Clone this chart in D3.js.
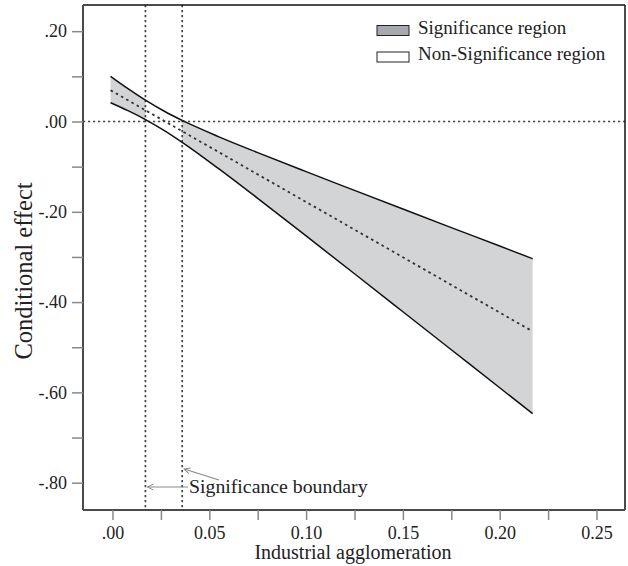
<!DOCTYPE html>
<html>
<head>
<meta charset="utf-8">
<script src="https://cdn.jsdelivr.net/npm/d3@7"></script>
<style>
  html, body { margin: 0; padding: 0; background: #fff; }
  svg { display: block; }
  text { font-family: "Liberation Serif", "Times New Roman", serif; fill: #222; }
</style>
</head>
<body>
<svg id="chart" width="628" height="566"></svg>
<script>
// ---- data ----
const xs     = [-0.001, 0.008, 0.017, 0.027, 0.036, 0.055, 0.075, 0.100, 0.125, 0.150, 0.175, 0.200, 0.217];
const upper  = [0.100, 0.0726, 0.0472, 0.0221, 0.0023, -0.0340, -0.0689, -0.1111, -0.1526, -0.1939, -0.2350, -0.2758, -0.3039];
const lower  = [0.0416, 0.0239, 0.0042, -0.0208, -0.0462, -0.1051, -0.1703, -0.2535, -0.3373, -0.4214, -0.5056, -0.5897, -0.6472];
const effect = [0.0690, 0.0470, 0.0250, 0.0004, -0.0216, -0.0681, -0.1171, -0.1783, -0.2395, -0.3007, -0.3619, -0.4232, -0.4648];
const boundaries = [0.017, 0.036];
const xTicks = [0, 0.025, 0.05, 0.075, 0.10, 0.125, 0.15, 0.175, 0.20, 0.225, 0.25];
const xLabeled = [0, 0.05, 0.10, 0.15, 0.20, 0.25];
const yTicks = [0.2, 0.1, 0, -0.1, -0.2, -0.3, -0.4, -0.5, -0.6, -0.7, -0.8];
const yLabeled = [0.2, 0, -0.2, -0.4, -0.6, -0.8];
const legendItems = ["Significance region", "Non-Significance region"];
const xTitle = "Industrial agglomeration";
const yTitle = "Conditional effect";
const annotation = "Significance boundary";

const svg = d3.select("#chart");
const L = 83, R = 625, T = 5, B = 510;
const x = d3.scaleLinear().domain([-0.01524, 0.26472]).range([L, R]);
const y = d3.scaleLinear().domain([0.2580, -0.8605]).range([T, B]);

const pts = xs.map((v, i) => ({x: v, u: upper[i], l: lower[i], e: effect[i]}));

// clip regions
const defs = svg.append("defs");
defs.append("clipPath").attr("id", "sigL").append("rect")
  .attr("x", L).attr("y", T).attr("width", x(boundaries[0]) - L).attr("height", B - T);
defs.append("clipPath").attr("id", "sigR").append("rect")
  .attr("x", x(boundaries[1])).attr("y", T).attr("width", R - x(boundaries[1])).attr("height", B - T);
const mk = defs.append("marker").attr("id", "arr").attr("viewBox", "-10 -6 12 12")
  .attr("refX", 0).attr("refY", 0).attr("markerWidth", 10).attr("markerHeight", 10)
  .attr("orient", "auto").attr("markerUnits", "userSpaceOnUse");
mk.append("path").attr("d", "M-7,-3.5 L0,0 L-7,3.5").attr("fill", "none").attr("stroke", "#8a8a8a").attr("stroke-width", 1.2);

const area = d3.area().x(d => x(d.x)).y0(d => y(d.l)).y1(d => y(d.u)).curve(d3.curveMonotoneX);
svg.append("path").datum(pts).attr("d", area).attr("fill", "#d3d4d6").attr("clip-path", "url(#sigL)");
svg.append("path").datum(pts).attr("d", area).attr("fill", "#d3d4d6").attr("clip-path", "url(#sigR)");

// zero line and boundaries
svg.append("line").attr("x1", L).attr("x2", R).attr("y1", y(0)).attr("y2", y(0))
  .attr("stroke", "#444").attr("stroke-width", 1.7).attr("stroke-dasharray", "2.2,2.8");
boundaries.forEach(b => {
  svg.append("line").attr("x1", x(b)).attr("x2", x(b)).attr("y1", T).attr("y2", B)
    .attr("stroke", "#444").attr("stroke-width", 1.7).attr("stroke-dasharray", "2.2,2.8");
});

// bounds
const lineU = d3.line().x(d => x(d.x)).y(d => y(d.u)).curve(d3.curveMonotoneX);
const lineL = d3.line().x(d => x(d.x)).y(d => y(d.l)).curve(d3.curveMonotoneX);
const lineE = d3.line().x(d => x(d.x)).y(d => y(d.e));
svg.append("path").datum(pts).attr("d", lineU).attr("fill", "none").attr("stroke", "#111").attr("stroke-width", 1.5);
svg.append("path").datum(pts).attr("d", lineL).attr("fill", "none").attr("stroke", "#111").attr("stroke-width", 1.5);
svg.append("path").datum(pts).attr("d", lineE).attr("fill", "none").attr("stroke", "#333").attr("stroke-width", 1.8).attr("stroke-dasharray", "2.6,3.4");

// frame top/right
svg.append("line").attr("x1", L).attr("x2", R).attr("y1", T).attr("y2", T).attr("stroke", "#111").attr("stroke-width", 1.5);
svg.append("line").attr("x1", R).attr("x2", R).attr("y1", T).attr("y2", B).attr("stroke", "#111").attr("stroke-width", 1.5);

// axes
const fmtY = v => yLabeled.some(t => Math.abs(t - v) < 1e-9) ? d3.format(".2f")(v).replace("\u2212", "-").replace("0.", ".") : "";
const fmtX = v => xLabeled.some(t => Math.abs(t - v) < 1e-9) ? (v === 0 ? ".00" : d3.format(".2f")(v)) : "";
const gy = svg.append("g").attr("transform", `translate(${L},0)`)
  .call(d3.axisLeft(y).tickValues(yTicks).tickFormat(fmtY).tickSize(11).tickPadding(5).tickSizeOuter(0));
const gx = svg.append("g").attr("transform", `translate(0,${B})`)
  .call(d3.axisBottom(x).tickValues(xTicks).tickFormat(fmtX).tickSize(10).tickPadding(6).tickSizeOuter(0));
[gy, gx].forEach(g => {
  g.select(".domain").attr("stroke", "#4a4a4a").attr("stroke-width", 2);
  g.selectAll(".tick line").attr("stroke", "#888").attr("stroke-width", 1.5);
  g.selectAll(".tick text").attr("font-size", 18).attr("fill", "#333")
    .style("font-family", '"Liberation Serif", "Times New Roman", serif');
});
gx.select(".domain").attr("d", `M${L},0H${R}`);
gy.select(".domain").attr("d", `M0,${T}V${B}`);

// titles
svg.append("text").attr("x", 353).attr("y", 559).attr("text-anchor", "middle").attr("font-size", 20).text(xTitle);
svg.append("text").attr("transform", "translate(32,271) rotate(-90)").attr("text-anchor", "middle").attr("font-size", 24.5).text(yTitle);

// legend
const swFill = ["#a6a9ae", "#ffffff"];
legendItems.forEach((t, i) => {
  const yy = 25.5 + i * 26.5;
  svg.append("rect").attr("x", 377).attr("y", yy).attr("width", 32).attr("height", 10)
    .attr("fill", swFill[i]).attr("stroke", "#222").attr("stroke-width", 1);
  svg.append("text").attr("x", 418).attr("y", yy + 8).attr("font-size", 19).text(t);
});

// annotation + arrows
svg.append("text").attr("x", 189).attr("y", 493).attr("font-size", 19.8).text(annotation);
svg.append("line").attr("x1", 188).attr("y1", 487).attr("x2", x(boundaries[0]) + 2).attr("y2", 487)
  .attr("stroke", "#8a8a8a").attr("stroke-width", 1.2).attr("marker-end", "url(#arr)");
svg.append("line").attr("x1", 219).attr("y1", 480).attr("x2", x(boundaries[1]) + 2).attr("y2", 469)
  .attr("stroke", "#8a8a8a").attr("stroke-width", 1.2).attr("marker-end", "url(#arr)");
</script>
</body>
</html>
